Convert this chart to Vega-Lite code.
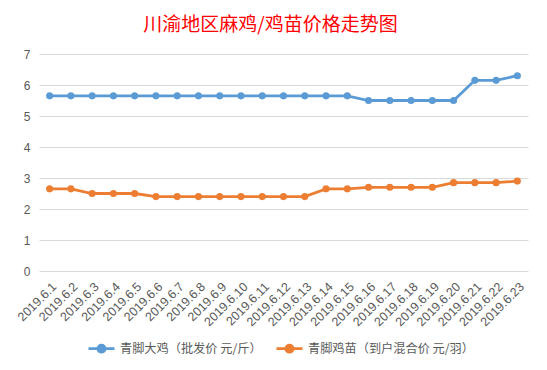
{
  "$schema": "https://vega.github.io/schema/vega-lite/v6.json",
  "width": 489,
  "height": 217,
  "autosize": {"type": "none"},
  "padding": {"left": 39, "top": 54, "right": 19, "bottom": 99},
  "background": "white",
  "title": {
    "text": "川渝地区麻鸡/鸡苗价格走势图",
    "color": "#FF0000",
    "fontSize": 19,
    "font": "Noto Sans CJK SC",
    "fontWeight": "normal",
    "anchor": "middle",
    "dx": -13,
    "offset": 13
  },
  "config": {
    "view": {"stroke": null},
    "font": "Liberation Sans"
  },
  "data": {
    "values": [
      {"d": "2019.6.1", "s": "青脚大鸡（批发价 元/斤）", "v": 5.65},
      {"d": "2019.6.2", "s": "青脚大鸡（批发价 元/斤）", "v": 5.65},
      {"d": "2019.6.3", "s": "青脚大鸡（批发价 元/斤）", "v": 5.65},
      {"d": "2019.6.4", "s": "青脚大鸡（批发价 元/斤）", "v": 5.65},
      {"d": "2019.6.5", "s": "青脚大鸡（批发价 元/斤）", "v": 5.65},
      {"d": "2019.6.6", "s": "青脚大鸡（批发价 元/斤）", "v": 5.65},
      {"d": "2019.6.7", "s": "青脚大鸡（批发价 元/斤）", "v": 5.65},
      {"d": "2019.6.8", "s": "青脚大鸡（批发价 元/斤）", "v": 5.65},
      {"d": "2019.6.9", "s": "青脚大鸡（批发价 元/斤）", "v": 5.65},
      {"d": "2019.6.10", "s": "青脚大鸡（批发价 元/斤）", "v": 5.65},
      {"d": "2019.6.11", "s": "青脚大鸡（批发价 元/斤）", "v": 5.65},
      {"d": "2019.6.12", "s": "青脚大鸡（批发价 元/斤）", "v": 5.65},
      {"d": "2019.6.13", "s": "青脚大鸡（批发价 元/斤）", "v": 5.65},
      {"d": "2019.6.14", "s": "青脚大鸡（批发价 元/斤）", "v": 5.65},
      {"d": "2019.6.15", "s": "青脚大鸡（批发价 元/斤）", "v": 5.65},
      {"d": "2019.6.16", "s": "青脚大鸡（批发价 元/斤）", "v": 5.5},
      {"d": "2019.6.17", "s": "青脚大鸡（批发价 元/斤）", "v": 5.5},
      {"d": "2019.6.18", "s": "青脚大鸡（批发价 元/斤）", "v": 5.5},
      {"d": "2019.6.19", "s": "青脚大鸡（批发价 元/斤）", "v": 5.5},
      {"d": "2019.6.20", "s": "青脚大鸡（批发价 元/斤）", "v": 5.5},
      {"d": "2019.6.21", "s": "青脚大鸡（批发价 元/斤）", "v": 6.15},
      {"d": "2019.6.22", "s": "青脚大鸡（批发价 元/斤）", "v": 6.15},
      {"d": "2019.6.23", "s": "青脚大鸡（批发价 元/斤）", "v": 6.3},
      {"d": "2019.6.1", "s": "青脚鸡苗（到户混合价 元/羽）", "v": 2.65},
      {"d": "2019.6.2", "s": "青脚鸡苗（到户混合价 元/羽）", "v": 2.65},
      {"d": "2019.6.3", "s": "青脚鸡苗（到户混合价 元/羽）", "v": 2.5},
      {"d": "2019.6.4", "s": "青脚鸡苗（到户混合价 元/羽）", "v": 2.5},
      {"d": "2019.6.5", "s": "青脚鸡苗（到户混合价 元/羽）", "v": 2.5},
      {"d": "2019.6.6", "s": "青脚鸡苗（到户混合价 元/羽）", "v": 2.4},
      {"d": "2019.6.7", "s": "青脚鸡苗（到户混合价 元/羽）", "v": 2.4},
      {"d": "2019.6.8", "s": "青脚鸡苗（到户混合价 元/羽）", "v": 2.4},
      {"d": "2019.6.9", "s": "青脚鸡苗（到户混合价 元/羽）", "v": 2.4},
      {"d": "2019.6.10", "s": "青脚鸡苗（到户混合价 元/羽）", "v": 2.4},
      {"d": "2019.6.11", "s": "青脚鸡苗（到户混合价 元/羽）", "v": 2.4},
      {"d": "2019.6.12", "s": "青脚鸡苗（到户混合价 元/羽）", "v": 2.4},
      {"d": "2019.6.13", "s": "青脚鸡苗（到户混合价 元/羽）", "v": 2.4},
      {"d": "2019.6.14", "s": "青脚鸡苗（到户混合价 元/羽）", "v": 2.65},
      {"d": "2019.6.15", "s": "青脚鸡苗（到户混合价 元/羽）", "v": 2.65},
      {"d": "2019.6.16", "s": "青脚鸡苗（到户混合价 元/羽）", "v": 2.7},
      {"d": "2019.6.17", "s": "青脚鸡苗（到户混合价 元/羽）", "v": 2.7},
      {"d": "2019.6.18", "s": "青脚鸡苗（到户混合价 元/羽）", "v": 2.7},
      {"d": "2019.6.19", "s": "青脚鸡苗（到户混合价 元/羽）", "v": 2.7},
      {"d": "2019.6.20", "s": "青脚鸡苗（到户混合价 元/羽）", "v": 2.85},
      {"d": "2019.6.21", "s": "青脚鸡苗（到户混合价 元/羽）", "v": 2.85},
      {"d": "2019.6.22", "s": "青脚鸡苗（到户混合价 元/羽）", "v": 2.85},
      {"d": "2019.6.23", "s": "青脚鸡苗（到户混合价 元/羽）", "v": 2.9}
    ]
  },
  "mark": {
    "type": "line",
    "strokeWidth": 2.8,
    "point": {"size": 50, "filled": true, "opacity": 1}
  },
  "encoding": {
    "x": {
      "field": "d",
      "type": "ordinal",
      "sort": null,
      "axis": {
        "title": null,
        "labelAngle": -45,
        "ticks": false,
        "domain": false,
        "labelPadding": 9,
        "labelFontSize": 12.5,
        "labelColor": "#595959"
      }
    },
    "y": {
      "field": "v",
      "type": "quantitative",
      "scale": {"domain": [0, 7], "nice": false},
      "axis": {
        "title": null,
        "values": [0, 1, 2, 3, 4, 5, 6, 7],
        "grid": true,
        "gridColor": "#D9D9D9",
        "domain": false,
        "ticks": false,
        "labelPadding": 9,
        "labelFontSize": 12,
        "labelColor": "#595959"
      }
    },
    "color": {
      "field": "s",
      "type": "nominal",
      "scale": {
        "domain": ["青脚大鸡（批发价 元/斤）", "青脚鸡苗（到户混合价 元/羽）"],
        "range": ["#5B9BD5", "#ED7D31"]
      },
      "legend": {
        "title": null,
        "orient": "none",
        "legendX": 48,
        "legendY": 280,
        "direction": "horizontal",
        "symbolType": "M-1,0H1M0.27,0A0.27,0.27 0 1,1 -0.27,0A0.27,0.27 0 1,1 0.27,0Z",
        "symbolSize": 676,
        "symbolStrokeWidth": 2.8,
        "labelFont": "Noto Sans CJK SC",
        "labelFontSize": 12.2,
        "labelColor": "#595959",
        "labelOffset": 4,
        "labelLimit": 300,
        "columnPadding": 8,
        "encode": {
          "symbols": {
            "update": {
              "fill": {"scale": "color", "field": "value"},
              "fillOpacity": {"value": 1}
            }
          }
        }
      }
    }
  }
}
